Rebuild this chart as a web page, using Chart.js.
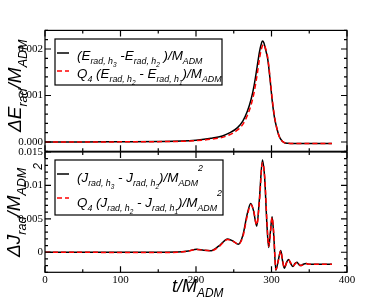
<!DOCTYPE html>
<html>
<head>
<meta charset="utf-8">
<script src="https://cdn.jsdelivr.net/npm/chart.js@4.4.1/dist/chart.umd.min.js"></script>
<style>
html, body { margin: 0; padding: 0; background: #fff; }
#wrap { position: relative; width: 392px; height: 303px; }
canvas { position: absolute; left: 0; top: 0; }
</style>
</head>
<body>
<div id="wrap">
  <canvas id="topChart" width="392" height="303"></canvas>
  <canvas id="botChart" width="392" height="303"></canvas>
</div>
<script>
// radiated energy difference (top panel)
const tE = [0, 50, 100, 150, 180, 200, 220, 235, 245, 255, 262, 268, 273, 277, 281, 284, 286, 288, 290, 292, 295, 298, 301, 304, 307, 310, 314, 318, 325, 340, 360, 380];
const eBlack = [0, 0, 0.000005, 0.00001, 0.00002, 0.00004, 0.00008, 0.00013, 0.0002, 0.00031, 0.00045, 0.00066, 0.00092, 0.00122, 0.00162, 0.00193, 0.00208, 0.00217, 0.00213, 0.002, 0.00178, 0.00136, 0.00088, 0.00052, 0.0003, 0.00013, 0.00002, -0.00002, -0.00003, -0.00003, -0.00003, -0.00003];
const eRed = [0, 0, 0.000003, 0.000008, 0.000015, 0.00003, 0.00006, 0.0001, 0.00016, 0.00026, 0.00038, 0.00057, 0.0008, 0.00107, 0.00145, 0.00178, 0.00196, 0.00207, 0.0021, 0.00202, 0.00182, 0.0014, 0.00092, 0.00055, 0.0003, 0.00013, 0.00002, -0.00002, -0.00003, -0.00003, -0.00003, -0.00003];

// radiated angular momentum difference (bottom panel)
const tJ = [0, 50, 100, 150, 175, 190, 201, 210, 220, 230, 242, 250, 256, 262, 268, 272.5, 276, 280.5, 284, 288, 291, 294, 296.3, 298.5, 300.8, 303, 305.8, 309, 312.3, 314.5, 317, 320, 322.6, 325.5, 328.4, 331, 333.7, 336, 338.5, 342, 346, 350, 360, 380];
const jBlack = [0, 0, 0, 0, 0.00002, 0.0002, 0.00045, 0.0003, 0.00024, 0.0009, 0.002, 0.0016, 0.0012, 0.0025, 0.0058, 0.0073, 0.0063, 0.0039, 0.008, 0.0138, 0.011, 0.004, 0.0007, 0.003, 0.0053, 0.0025, -0.0027, -0.0012, 0.00025, -0.0012, -0.0024, -0.0015, -0.0011, -0.0017, -0.00215, -0.0017, -0.0015, -0.0018, -0.002, -0.0018, -0.0017, -0.0018, -0.0018, -0.0018];
const jRed = [0, 0, -0.00005, -0.00005, 0, 0.00018, 0.00042, 0.0003, 0.00022, 0.0008, 0.0019, 0.0016, 0.0012, 0.0023, 0.0055, 0.0071, 0.0064, 0.0041, 0.0076, 0.0134, 0.0113, 0.0045, 0.0009, 0.0028, 0.0052, 0.0028, -0.0026, -0.0013, 0.0002, -0.0011, -0.0023, -0.0016, -0.0011, -0.0016, -0.0021, -0.0018, -0.0015, -0.0017, -0.002, -0.0019, -0.0017, -0.0018, -0.0018, -0.0018];

const xTicks = [0, 100, 200, 300, 400];
const eTicks = [0, 0.001, 0.002];
const eTickLabels = ['0.000', '0.001', '0.002'];
const jTicks = [0, 0.005, 0.01, 0.015];
const jTickLabels = ['0', '0.005', '0.01', '0.015'];

const SANS = '"Liberation Sans", Arial, sans-serif';
const SERIF = '"Liberation Serif", "Times New Roman", serif';

function pts(t, v) {
  return t.map((x, i) => ({ x: x, y: v[i] }));
}

// level: 0 normal, 1 subscript, 2 sub-subscript, 3 superscript
const LV = {
  0: { s: 1, dy: 0 },
  1: { s: 0.66, dy: 0.3 },
  2: { s: 0.48, dy: 0.5 },
  3: { s: 0.66, dy: -0.8 }
};

function drawRich(ctx, x, y, parts, base) {
  let cx = x;
  ctx.textAlign = 'left';
  ctx.textBaseline = 'alphabetic';
  ctx.fillStyle = '#000';
  for (const [txt, lv] of parts) {
    const st = LV[lv];
    ctx.font = 'italic ' + (base * st.s) + 'px ' + SANS;
    ctx.fillText(txt, cx, y + base * st.dy);
    cx += ctx.measureText(txt).width;
  }
  return cx;
}

function framePlugin(yMinor, yMajor) {
  return {
    id: 'frame',
    afterDatasetsDraw(chart) {
      const ctx = chart.ctx;
      const a = chart.chartArea;
      const x = chart.scales.x;
      const y = chart.scales.y;
      ctx.save();
      ctx.strokeStyle = '#000';
      ctx.lineWidth = 1.2;
      ctx.strokeRect(a.left, a.top, a.right - a.left, a.bottom - a.top);
      ctx.beginPath();
      for (let v = 0; v <= 400; v += 50) {
        const px = x.getPixelForValue(v);
        const len = v % 100 === 0 ? 6 : 3;
        ctx.moveTo(px, a.bottom); ctx.lineTo(px, a.bottom - len);
        ctx.moveTo(px, a.top); ctx.lineTo(px, a.top + len);
      }
      const n = Math.round((y.max - y.min) / yMinor);
      for (let i = 0; i <= n; i++) {
        const v = y.min + i * yMinor;
        const r = v / yMajor;
        const len = Math.abs(r - Math.round(r)) < 1e-6 ? 6 : 3;
        const py = y.getPixelForValue(v);
        ctx.moveTo(a.left, py); ctx.lineTo(a.left + len, py);
        ctx.moveTo(a.right, py); ctx.lineTo(a.right - len, py);
      }
      ctx.stroke();
      ctx.restore();
    }
  };
}

function legendPlugin(box, rows) {
  return {
    id: 'legendBox',
    afterDraw(chart) {
      const ctx = chart.ctx;
      ctx.save();
      ctx.fillStyle = '#fff';
      ctx.fillRect(box.x, box.y, box.w, box.h);
      ctx.strokeStyle = '#000';
      ctx.lineWidth = 1.2;
      ctx.strokeRect(box.x, box.y, box.w, box.h);
      rows.forEach(r => {
        ctx.beginPath();
        ctx.strokeStyle = r.color;
        ctx.lineWidth = 1.5;
        ctx.setLineDash(r.dash);
        ctx.moveTo(box.x + 2, r.y - r.ly);
        ctx.lineTo(box.x + 14, r.y - r.ly);
        ctx.stroke();
        ctx.setLineDash([]);
        drawRich(ctx, box.x + 22, r.y, r.parts, 13.4);
      });
      ctx.restore();
    }
  };
}

const titlePlugin = {
  id: 'titles',
  afterDraw(chart) {
    const ctx = chart.ctx;
    ctx.save();
    // x title
    drawRich(ctx, 172, 292, [['t/M', 0], ['ADM', 1]], 18);
    // top y title
    ctx.save();
    ctx.translate(21, 132);
    ctx.rotate(-Math.PI / 2);
    drawRich(ctx, 0, 0, [['\u0394E', 0], ['rad', 1], ['/M', 0], ['ADM', 1]], 19);
    ctx.restore();
    // bottom y title
    ctx.save();
    ctx.translate(20, 257);
    ctx.rotate(-Math.PI / 2);
    const end = drawRich(ctx, 0, 0, [['\u0394J', 0], ['rad', 1], ['/M', 0], ['ADM', 1]], 19);
    ctx.font = 'italic 12px ' + SANS;
    ctx.fillText('2', end - 2, 22);
    ctx.restore();
    ctx.restore();
  }
};

function yScale(min, max, ticks, labels) {
  return {
    type: 'linear',
    min: min,
    max: max,
    afterFit: s => { s.width = 45; },
    afterBuildTicks: s => { s.ticks = ticks.map(v => ({ value: v })); },
    grid: { display: false, drawTicks: false },
    border: { display: false },
    ticks: {
      color: '#000',
      padding: 2,
      font: { family: SERIF, size: 11 },
      callback: v => labels[ticks.indexOf(v)]
    }
  };
}

function lineSets(t, black, red) {
  return [
    {
      data: pts(t, red),
      borderColor: '#ff0000',
      borderWidth: 1.5,
      borderDash: [5, 3],
      pointRadius: 0,
      cubicInterpolationMode: 'monotone',
      order: 0
    },
    {
      data: pts(t, black),
      borderColor: '#000',
      borderWidth: 1.5,
      pointRadius: 0,
      cubicInterpolationMode: 'monotone',
      order: 1
    }
  ];
}

new Chart(document.getElementById('topChart'), {
  type: 'line',
  data: { datasets: lineSets(tE, eBlack, eRed) },
  options: {
    responsive: false,
    animation: false,
    layout: { padding: { left: 0, right: 45, top: 30.4, bottom: 151.7 } },
    plugins: { legend: { display: false }, tooltip: { enabled: false } },
    scales: {
      x: { type: 'linear', min: 0, max: 400, display: false },
      y: yScale(-0.0002, 0.0024, eTicks, eTickLabels)
    }
  },
  plugins: [
    framePlugin(0.0002, 0.001),
    legendPlugin({ x: 55, y: 39, w: 167, h: 46 }, [
      { y: 60, ly: 7, color: '#000', dash: [],
        parts: [['(E', 0], ['rad, h', 1], ['3', 2], [' -E', 0], ['rad, h', 1], ['2', 2], [' )/M', 0], ['ADM', 1]] },
      { y: 78, ly: 7, color: '#ff0000', dash: [5, 3],
        parts: [['Q', 0], ['4', 1], [' (E', 0], ['rad, h', 1], ['2', 2], [' - E', 0], ['rad, h', 1], ['1', 2], [')/M', 0], ['ADM', 1]] }
    ])
  ]
});

new Chart(document.getElementById('botChart'), {
  type: 'line',
  data: { datasets: lineSets(tJ, jBlack, jRed) },
  options: {
    responsive: false,
    animation: false,
    layout: { padding: { left: 0, right: 45, top: 152, bottom: 10.7 } },
    plugins: { legend: { display: false }, tooltip: { enabled: false } },
    scales: {
      x: {
        type: 'linear',
        min: 0,
        max: 400,
        afterFit: s => { s.height = 20; },
        afterBuildTicks: s => { s.ticks = xTicks.map(v => ({ value: v })); },
        grid: { display: false, drawTicks: false },
        border: { display: false },
        ticks: {
          color: '#000',
          padding: 1,
          maxRotation: 0,
          autoSkip: false,
          font: { family: SERIF, size: 11 }
        }
      },
      y: yScale(-0.003, 0.015, jTicks, jTickLabels)
    }
  },
  plugins: [
    framePlugin(0.001, 0.005),
    legendPlugin({ x: 55, y: 160, w: 168, h: 55 }, [
      { y: 182, ly: 8, color: '#000', dash: [],
        parts: [['(J', 0], ['rad, h', 1], ['3', 2], [' - J', 0], ['rad, h', 1], ['2', 2], [')/M', 0], ['ADM', 1], ['2', 3]] },
      { y: 207, ly: 9, color: '#ff0000', dash: [5, 3],
        parts: [['Q', 0], ['4', 1], [' (J', 0], ['rad, h', 1], ['2', 2], [' - J', 0], ['rad, h', 1], ['1', 2], [')/M', 0], ['ADM', 1], ['2', 3]] }
    ]),
    titlePlugin
  ]
});
</script>
</body>
</html>
